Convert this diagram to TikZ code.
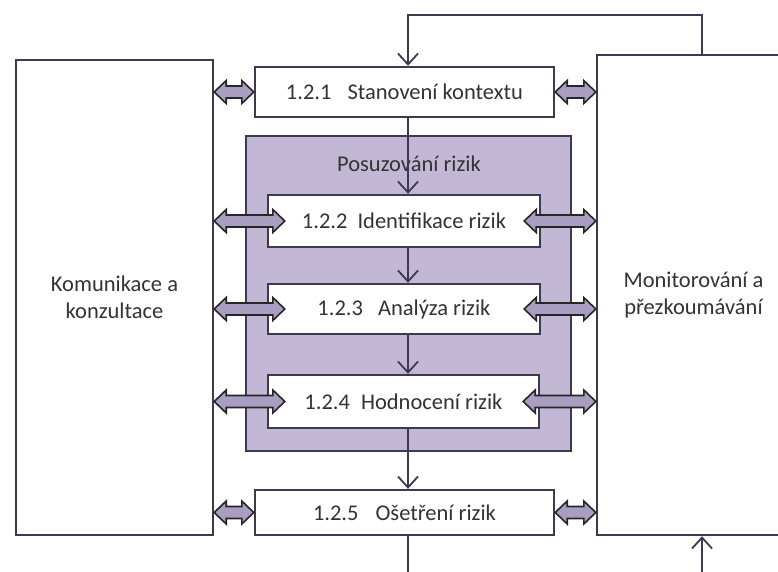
\documentclass[tikz,border=0pt]{standalone}
\usepackage{fontspec}
\setmainfont{Carlito}
\usetikzlibrary{calc,arrows.meta}
\definecolor{rim}{HTML}{3E3850}
\definecolor{lav}{HTML}{C2B8D5}
\definecolor{arrfill}{HTML}{A99DC2}
\definecolor{ink}{HTML}{333333}
\tikzset{
  box/.style={draw=rim, line width=2.4pt, fill=white, inner sep=0pt,
    text=ink, font=\fontsize{22.5}{27}\selectfont, align=center},
  posubox/.style={box, fill=lav},
  flowarr/.style={draw=rim, line width=1.8pt,
    -{Straight Barb[length=11pt,width=20pt,line width=1.8pt]}},
  fatarr/.style={draw=black!85, line width=1.6pt, fill=arrfill, line join=miter}
}
\newcommand\fatarrow[2]{%
  \draw[fatarr] let \p1=#1, \p2=#2 in
    (\x1,\y1) -- ++(12pt,11.5pt) -- ++(0pt,-5.5pt) -- (\x2-12pt,\y1+6pt)
    -- ++(0pt,5.5pt) -- (\x2,\y1) -- (\x2-12pt,\y1-11.5pt) -- ++(0pt,5.5pt)
    -- (\x1+12pt,\y1-6pt) -- ++(0pt,-5.5pt) -- cycle;}

\begin{document}
\begin{tikzpicture}[x=1pt,y=-1pt]
  %%%%% START %%%%%
  \useasboundingbox (0,0) rectangle (778,571);
  \clip (0,0) rectangle (778,571);

  \coordinate (flow) at (408,0);
  \coordinate (loopr) at (702,0);
  \coordinate (topy) at (0,15);
  \coordinate (boty) at (0,600);

  % side blocks
  \node[box, minimum width=197pt, minimum height=475pt] (komu) at (114.5,297.5)
    {Komunikace a\\konzultace};
  \node[box, minimum width=193pt, minimum height=480pt] (moni) at (693.5,295)
    {Monitorování a\\přezkoumávání};

  % process
  \node[box, minimum width=299pt, minimum height=50pt] (s1) at (404.5,92)
    {1.2.1\hspace{16pt}Stanovení kontextu};
  \node[posubox, minimum width=325pt, minimum height=315pt] (posu) at (408.5,293.5) {};
  \node[text=ink, font=\fontsize{22.5}{27}\selectfont] (posutit) at (409,164) {Posuzování rizik};
  \node[box, minimum width=272pt, minimum height=52pt] (s2) at (404,221)
    {1.2.2\hspace{10pt}Identifikace rizik};
  \node[box, minimum width=272pt, minimum height=50pt] (s3) at (404,309)
    {1.2.3\hspace{15pt}Analýza rizik};
  \node[box, minimum width=271pt, minimum height=53pt] (s4) at (403.5,401.5)
    {1.2.4\hspace{11pt}Hodnocení rizik};
  \node[box, minimum width=299pt, minimum height=45pt] (s5) at (404.5,512.5)
    {1.2.5\hspace{17pt}Ošetření rizik};

  % flow
  \draw[flowarr] (s1.south -| flow) -- (s2.north -| flow);
  \draw[flowarr] (s2.south -| flow) -- (s3.north -| flow);
  \draw[flowarr] (s3.south -| flow) -- (s4.north -| flow);
  \draw[flowarr] (s4.south -| flow) -- (s5.north -| flow);
  \draw[flowarr] (moni.north -| loopr) -- (loopr |- topy) -| (s1.north -| flow);
  \draw[flowarr] (s5.south -| flow) -- (flow |- boty) -| (moni.south -| loopr);

  % exchange arrows
  \fatarrow{(komu.east |- s1)}{(s1.west)}
  \fatarrow{(s1.east)}{(moni.west |- s1)}
  \foreach \s in {s2,s3,s4}{
    \fatarrow{(komu.east |- \s)}{($(\s.west)+(18,0)$)}
    \fatarrow{($(\s.east)+(-17,0)$)}{(moni.west |- \s)}
  }
  \fatarrow{(komu.east |- s5)}{(s5.west)}
  \fatarrow{(s5.east)}{(moni.west |- s5)}
  %%%%% END %%%%%
\end{tikzpicture}
\end{document}
